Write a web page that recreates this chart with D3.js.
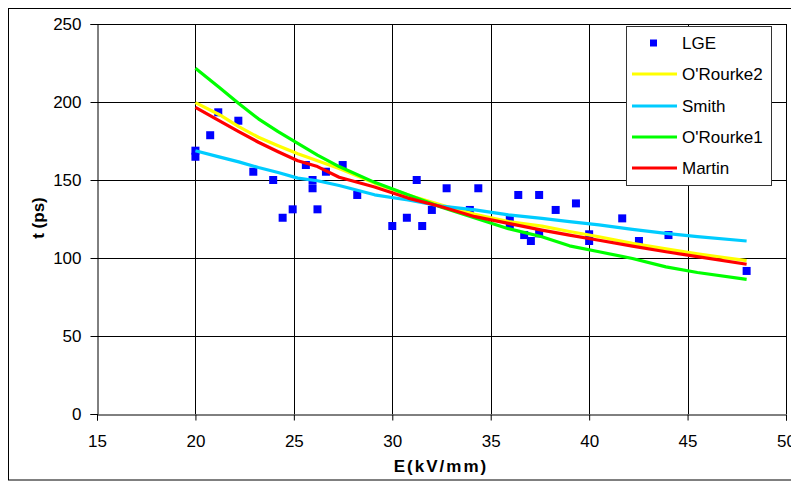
<!DOCTYPE html>
<html><head><meta charset="utf-8">
<script src="https://cdn.jsdelivr.net/npm/d3@7/dist/d3.min.js"></script>
<style>
html,body{margin:0;padding:0;background:#fff;}
svg{display:block;font-family:"Liberation Sans",Arial,sans-serif;}
</style></head>
<body><svg id="c" width="791" height="485"></svg>
<script>
// LGE measured points
const lgeE = [20, 20, 20.75, 21.16, 22.18, 22.94, 23.95, 24.43, 24.94, 25.61, 25.95, 25.95, 26.2, 26.63, 27.48, 28.22, 30, 30.74, 31.24, 31.52, 32.01, 32.76, 33.94, 34.37, 35.97, 35.97, 36.4, 36.7, 37.04, 37.46, 37.46, 38.3, 39.33, 40, 40, 41.68, 42.53, 44.03, 48];
const lgeT = [168.8, 164.9, 178.7, 193.4, 188, 155.3, 150, 125.8, 131.2, 159.6, 150, 144.7, 131.2, 155.3, 159.6, 140.4, 120.5, 125.8, 150, 120.5, 130.8, 144.7, 130.8, 144.7, 124.4, 121.2, 140.4, 114.7, 110.9, 140.4, 115.8, 130.8, 135, 115.2, 110.9, 125.4, 110.9, 114.7, 91.7];

// Model curves, sampled at these fields
const lineE = [20, 21.2, 22.2, 23.2, 24.2, 25.2, 26.2, 27.3, 29.1, 30.8, 32.5, 34.2, 35.9, 37.6, 39, 40.5, 42.2, 43.9, 45.5, 48];
const orourke2 = [199.6, 192, 184.2, 177.4, 172, 166.8, 162.3, 157.3, 148, 140.4, 134, 128, 123.3, 120.4, 117, 113.6, 109.4, 105.8, 102.6, 98.3];
const smith = [168.8, 164.8, 161.6, 158, 154.8, 151.2, 149.5, 146.5, 140.5, 137.2, 133.3, 130.8, 127.6, 125.4, 123.3, 121.2, 118.4, 115.8, 113.7, 110.9];
const orourke1 = [221.6, 209.5, 199, 189.2, 181, 173.5, 166, 158.6, 148.5, 140.5, 132.5, 125.6, 118.8, 113.6, 107.8, 104, 99.7, 94.3, 90.7, 86.3];
const martin = [196.6, 188, 181, 174.2, 168.1, 162.3, 158.6, 151.8, 145.5, 138.4, 132.9, 126.5, 122.2, 117.9, 114.7, 111.4, 107.6, 104, 100.9, 96];

const seriesNames = ["O'Rourke2", "Smith", "O'Rourke1", "Martin"];
const seriesColors = ["#FFFF00", "#00CCFF", "#00FF00", "#FF0000"];
const seriesValues = [orourke2, smith, orourke1, martin];

const xTicks = [15, 20, 25, 30, 35, 40, 45, 50];
const yTicks = [0, 50, 100, 150, 200, 250];
const xTitle = "E(kV/mm)";
const yTitle = "t (ps)";

const svg = d3.select("#c");
const L = 97, R = 786, T = 24, B = 414;
const x = d3.scaleLinear().domain([15, 50]).range([L, R]);
const y = d3.scaleLinear().domain([0, 250]).range([B, T]);

// chart area border
svg.append("rect").attr("x", 8.5).attr("y", 8.5).attr("width", 800).attr("height", 471.5)
  .attr("fill", "#fff").attr("stroke", "#000").attr("stroke-width", 1);

// gridlines
const grid = svg.append("g");
grid.selectAll("line.h").data(yTicks.filter(d => d > 0)).join("line")
  .attr("x1", L).attr("x2", R).attr("y1", d => Math.round(y(d)) + 0.5).attr("y2", d => Math.round(y(d)) + 0.5)
  .attr("stroke", "#000").attr("stroke-width", 1);
grid.selectAll("line.v").data(xTicks.filter(d => d > 15)).join("line")
  .attr("y1", T).attr("y2", B).attr("x1", d => Math.round(x(d)) + 0.5).attr("x2", d => Math.round(x(d)) + 0.5)
  .attr("stroke", "#000").attr("stroke-width", 1);

// axes
const xAxis = d3.axisBottom(x).tickValues(xTicks).tickSize(6).tickPadding(14).tickFormat(d3.format("d"));
const yAxis = d3.axisLeft(y).tickValues(yTicks).tickSize(7).tickPadding(9).tickFormat(d3.format("d"));
const gx = svg.append("g").attr("transform", `translate(0,${B + 0.5})`).call(xAxis);
const gy = svg.append("g").attr("transform", `translate(${L + 0.5},0)`).call(yAxis);
[gx, gy].forEach(g => {
  g.select(".domain").attr("stroke", "#000");
  g.selectAll(".tick line").attr("stroke", "#000");
  g.selectAll("text").attr("font-size", 17).attr("fill", "#000")
    .attr("font-family", "'Liberation Sans',Arial,sans-serif");
});

// LGE points
svg.append("g").selectAll("rect").data(lgeE.map((e, i) => [e, lgeT[i]])).join("rect")
  .attr("x", d => x(d[0]) - 4).attr("y", d => y(d[1]) - 4)
  .attr("width", 8).attr("height", 8).attr("fill", "#0000FF");

// model lines
const line = d3.line().x(d => x(d[0])).y(d => y(d[1]));
seriesValues.forEach((vals, i) => {
  svg.append("path").datum(lineE.map((e, j) => [e, vals[j]]))
    .attr("d", line).attr("fill", "none").attr("stroke", seriesColors[i])
    .attr("stroke-width", 3.2).attr("stroke-linejoin", "round");
});

// axis titles
svg.append("text").attr("x", 441).attr("y", 472).attr("text-anchor", "middle")
  .attr("font-size", 17).attr("font-weight", "bold").attr("letter-spacing", 2).text(xTitle);
svg.append("text").attr("transform", "translate(44,218) rotate(-90)").attr("text-anchor", "middle")
  .attr("font-size", 17).attr("font-weight", "bold").text(yTitle);

// legend
const lg = svg.append("g");
lg.append("rect").attr("x", 626.5).attr("y", 26.5).attr("width", 145).attr("height", 159)
  .attr("fill", "#fff").attr("stroke", "#333").attr("stroke-width", 1);
const rowY = [43, 74, 106, 137, 168];
lg.append("rect").attr("x", 650).attr("y", rowY[0] - 3.5).attr("width", 7).attr("height", 7).attr("fill", "#0000FF");
lg.append("text").attr("x", 682).attr("y", rowY[0] + 6).attr("font-size", 17).text("LGE");
seriesNames.forEach((n, i) => {
  const yy = rowY[i + 1];
  lg.append("line").attr("x1", 632).attr("x2", 677).attr("y1", yy).attr("y2", yy)
    .attr("stroke", seriesColors[i]).attr("stroke-width", 3.2);
  lg.append("text").attr("x", 682).attr("y", yy + 6).attr("font-size", 17).text(n);
});
</script></body></html>
